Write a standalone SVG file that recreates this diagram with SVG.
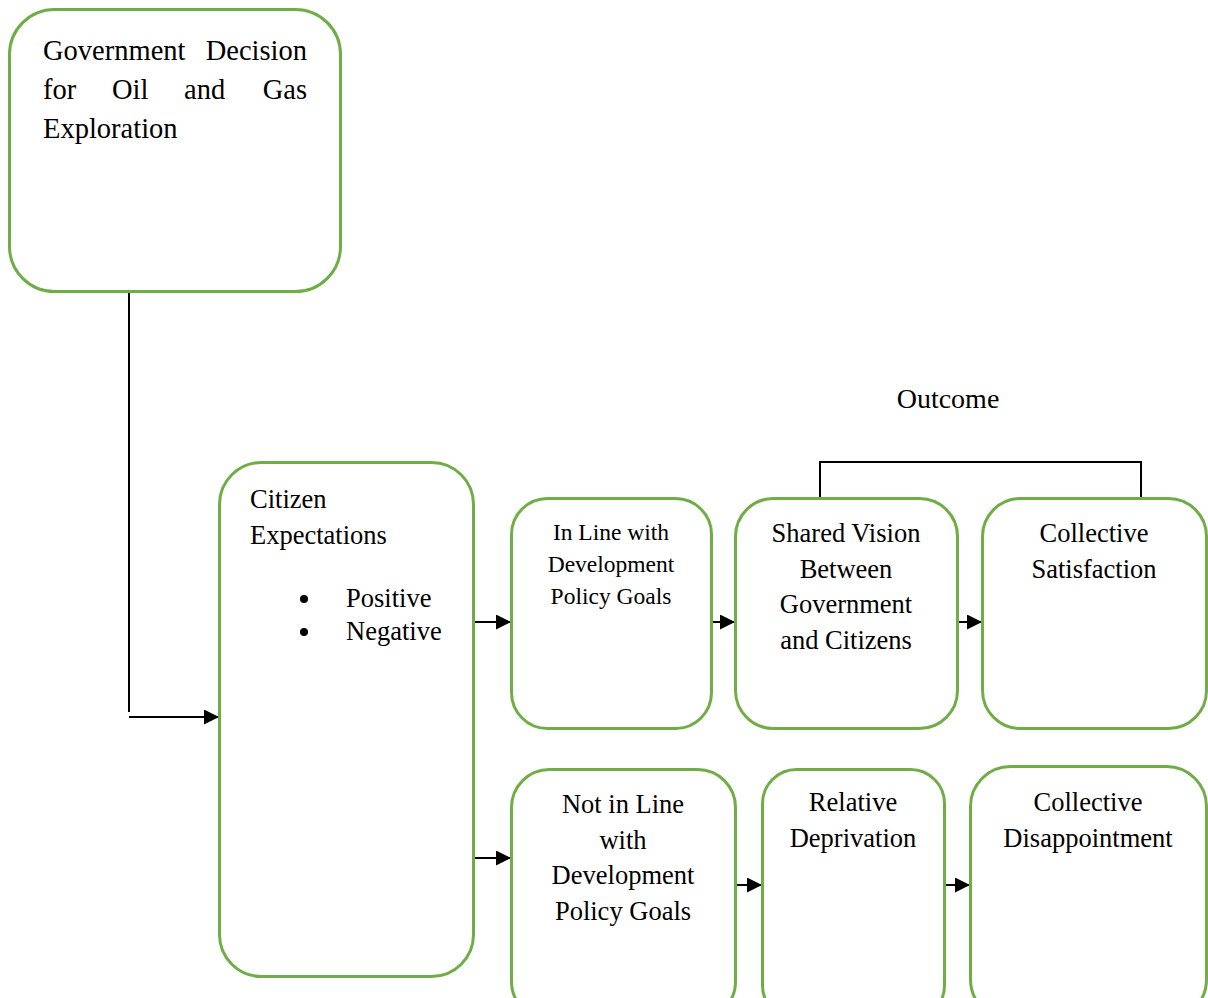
<svg xmlns="http://www.w3.org/2000/svg" width="1208" height="998" viewBox="0 0 1208 998">
<style>
.box{fill:#fff;stroke:#70AD47;stroke-width:3}
.t{font-family:"Liberation Serif","Times New Roman",serif;fill:#000;font-size:26.5px}
.c{text-anchor:middle}
.g{font-size:28.5px}
.ln{stroke:#000;stroke-width:2;fill:none}
</style>
<defs>
<marker id="ah2" viewBox="0 0 10 10" refX="10" refY="5" markerWidth="7.5" markerHeight="7.5" orient="auto">
<path d="M0,0 L10,5 L0,10 z" fill="#000"/>
</marker>
</defs>
<rect width="1208" height="998" fill="#fff"/>
<g id="connectors">
<polyline class="ln" points="129,292 129,712"/>
<line class="ln" x1="129" y1="717" x2="219" y2="717" marker-end="url(#ah2)"/>
<line class="ln" x1="474" y1="622" x2="511" y2="622" marker-end="url(#ah2)"/>
<line class="ln" x1="712" y1="622" x2="735" y2="622" marker-end="url(#ah2)"/>
<line class="ln" x1="958" y1="622" x2="982" y2="622" marker-end="url(#ah2)"/>
<line class="ln" x1="474" y1="858" x2="511" y2="858" marker-end="url(#ah2)"/>
<line class="ln" x1="736" y1="885" x2="762" y2="885" marker-end="url(#ah2)"/>
<line class="ln" x1="945" y1="885" x2="970" y2="885" marker-end="url(#ah2)"/>
<polyline class="ln" points="820,498 820,462 1141,462 1141,498"/>
</g>
<g id="outcome-label">
<text class="t c" x="948" y="408" style="font-size:28px">Outcome</text>
</g>
<g id="node-government">
<rect class="box" x="9.5" y="9.5" width="331" height="282" rx="45"/>
<text class="t g" x="43" y="60">Government</text>
<text class="t g" x="307" y="60" text-anchor="end">Decision</text>
<text class="t g" x="43" y="99">for</text>
<text class="t g" x="112" y="99">Oil</text>
<text class="t g" x="184" y="99">and</text>
<text class="t g" x="307" y="99" text-anchor="end">Gas</text>
<text class="t g" x="43" y="138">Exploration</text>
</g>
<g id="node-citizen">
<rect class="box" x="219.5" y="462.5" width="254" height="514" rx="42"/>
<text class="t" x="250" y="508">Citizen</text>
<text class="t" x="250" y="544">Expectations</text>
<circle cx="304" cy="599" r="4"/>
<circle cx="304" cy="632" r="4"/>
<text class="t" x="346" y="607">Positive</text>
<text class="t" x="346" y="640">Negative</text>
</g>
<g id="node-inline">
<rect class="box" x="511.5" y="498.5" width="200" height="230" rx="36"/>
<text class="t c" style="font-size:23.5px" x="611" y="540">In Line with</text>
<text class="t c" style="font-size:23.5px" x="611" y="572">Development</text>
<text class="t c" style="font-size:23.5px" x="611" y="604">Policy Goals</text>
</g>
<g id="node-shared">
<rect class="box" x="735.5" y="498.5" width="222" height="230" rx="38"/>
<text class="t c" x="846" y="542">Shared Vision</text>
<text class="t c" x="846" y="578">Between</text>
<text class="t c" x="846" y="613">Government</text>
<text class="t c" x="846" y="649">and Citizens</text>
</g>
<g id="node-satisfaction">
<rect class="box" x="982.5" y="498.5" width="224" height="230" rx="38"/>
<text class="t c" x="1094" y="542">Collective</text>
<text class="t c" x="1094" y="578">Satisfaction</text>
</g>
<g id="node-notinline">
<rect class="box" x="511.5" y="769.5" width="224" height="250" rx="38"/>
<text class="t c" x="623" y="813">Not in Line</text>
<text class="t c" x="623" y="849">with</text>
<text class="t c" x="623" y="884">Development</text>
<text class="t c" x="623" y="920">Policy Goals</text>
</g>
<g id="node-deprivation">
<rect class="box" x="762.5" y="769.5" width="182" height="250" rx="34"/>
<text class="t c" x="853" y="811">Relative</text>
<text class="t c" x="853" y="847">Deprivation</text>
</g>
<g id="node-disappointment">
<rect class="box" x="970.5" y="766.5" width="236" height="253" rx="40"/>
<text class="t c" x="1088" y="811">Collective</text>
<text class="t c" x="1088" y="847">Disappointment</text>
</g>
</svg>
